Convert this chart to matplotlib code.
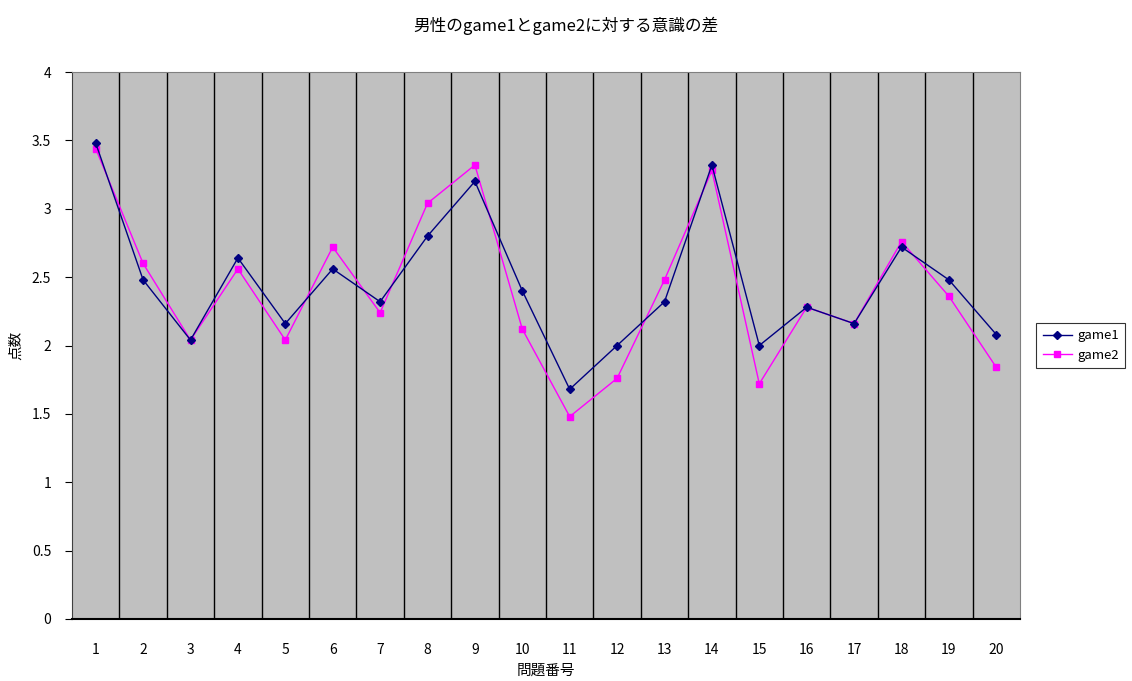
import numpy as np
import matplotlib.pyplot as plt

plt.rcParams['font.family'] = ['Noto Sans CJK JP', 'DejaVu Sans']

# question numbers and mean scores for men
questions = list(range(1, 21))
game1 = [3.48, 2.48, 2.04, 2.64, 2.16, 2.56, 2.32, 2.80, 3.20, 2.40,
         1.68, 2.00, 2.32, 3.32, 2.00, 2.28, 2.16, 2.72, 2.48, 2.08]
game2 = [3.44, 2.60, 2.04, 2.56, 2.04, 2.72, 2.24, 3.04, 3.32, 2.12,
         1.48, 1.76, 2.48, 3.28, 1.72, 2.28, 2.16, 2.76, 2.36, 1.84]
yticks = [0, 0.5, 1, 1.5, 2, 2.5, 3, 3.5, 4]

fig = plt.figure(figsize=(11.32, 6.81), dpi=100)
ax = fig.add_axes([72 / 1132, 62 / 681, 948 / 1132, 547 / 681])
ax.set_facecolor('#c0c0c0')

# category separators
for b in np.arange(1.5, 20.5, 1):
    ax.axvline(b, color='black', lw=1, zorder=1)

ax.plot(questions, game1, color='#000080', marker='D', markersize=4.5,
        lw=1, label='game1', zorder=3)
ax.plot(questions, game2, color='#ff00ff', marker='s', markersize=4.5,
        lw=1, label='game2', zorder=2)

ax.set_xlim(0.5, 20.5)
ax.set_ylim(0, 4)
ax.set_xticks(questions)
ax.set_xticklabels([str(q) for q in questions])
ax.set_yticks(yticks)
ax.set_yticklabels([f'{v:g}' for v in yticks])
ax.tick_params(axis='x', length=0, pad=17, labelsize=10)
ax.tick_params(axis='y', length=5, direction='out', pad=10, labelsize=10)

for side in ('top', 'right'):
    ax.spines[side].set_color('#808080')
ax.spines['left'].set_color('#404040')
ax.spines['bottom'].set_color('black')
ax.spines['bottom'].set_linewidth(1.5)

ax.set_xlabel('問題番号', fontsize=10.5, labelpad=5)
ax.set_ylabel('点数', fontsize=10.5, labelpad=6)
fig.suptitle('男性のgame1とgame2に対する意識の差', fontsize=12, y=0.975)

leg = ax.legend(loc='center left', bbox_to_anchor=(1.013, 0.5), fontsize=9.5,
                frameon=True, fancybox=False, edgecolor='black',
                borderpad=0.5, handlelength=2.2, labelspacing=0.5,
                handletextpad=0.4, borderaxespad=0.3)
leg.get_frame().set_linewidth(0.8)

fig.savefig('out.png', dpi=100)
